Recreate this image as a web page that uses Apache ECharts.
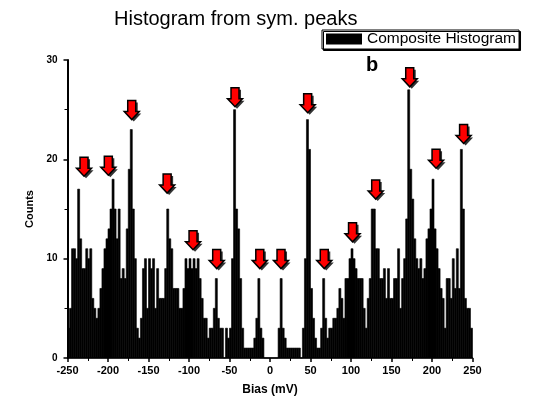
<!DOCTYPE html>
<html><head><meta charset="utf-8">
<script src="https://cdn.jsdelivr.net/npm/echarts/dist/echarts.min.js"></script>
<style>html,body{margin:0;padding:0;background:#fff}#c{width:540px;height:404px}</style>
</head><body><div id="c"></div>
<script>
// Histogram bins: lower edge of first bin and bin width (mV)
const BIN_START = -250;
const BIN_WIDTH = 2.5;
// Counts per bin (200 bins, -250 .. 250 mV)
const counts = [
  3,5,11,11,10,17,12,9,      // -250 .. -230
  9,11,10,11,6,5,4,5,        // -230 .. -210
  7,9,11,12,13,15,18,15,     // -210 .. -190
  12,15,8,9,8,13,19,23,      // -190 .. -170
  15,10,3,2,4,9,10,5,        // -170 .. -150
  10,9,10,5,9,6,6,6,         // -150 .. -130
  9,15,12,11,7,7,7,5,        // -130 .. -110
  5,7,10,9,10,9,10,9,        // -110 .. -90
  10,8,6,4,4,2,3,3,          // -90 .. -70
  5,8,4,3,3,0,3,2,           // -70 .. -50
  3,10,25,15,13,8,3,1,       // -50 .. -30
  1,1,1,1,2,4,8,3,           // -30 .. -10
  2,0,0,0,0,0,0,0,           // -10 .. 10
  3,8,3,2,1,1,1,1,           // 10 .. 30
  1,1,1,0,3,10,24,21,        // 30 .. 50
  7,4,2,1,1,3,8,4,           // 50 .. 70
  2,3,3,4,4,5,7,6,           // 70 .. 90
  4,8,8,10,11,10,9,8,        // 90 .. 110
  8,8,5,3,6,8,15,15,         // 110 .. 130
  11,11,8,8,9,6,9,6,         // 130 .. 150
  6,8,8,11,5,8,10,14,        // 150 .. 170
  27,19,16,12,10,9,10,8,     // 170 .. 190
  9,12,13,15,18,13,11,9,     // 190 .. 210
  7,6,3,8,8,6,10,7,          // 210 .. 230
  11,7,21,15,6,5,5,3         // 230 .. 250
];
// Red arrow markers: bias position (mV) and tip height (counts)
const arrowBias = [-229.6,-199.6,-170.7,-127,-95,-65.8,-43.2,-12.6,13.6,46.5,67,101.9,130.5,172.5,205,239];
const arrowTip  = [18.3,18.4,24,16.6,10.9,9,25.3,9,9,24.7,9,11.7,16,27.3,19.1,21.6];

const FONT = "'Liberation Sans', Arial, sans-serif";
const histData = counts.map((c, i) => [BIN_START + i * BIN_WIDTH, BIN_START + (i + 1) * BIN_WIDTH, c]);
const arrowData = arrowBias.map((b, i) => [b, arrowTip[i]]);

const chart = echarts.init(document.getElementById('c'), null, {renderer: 'canvas'});
const arrowShape = [[-4,-19],[4,-19],[4,-8],[7.5,-8],[0,0],[-7.5,-8],[-4,-8]];

chart.setOption({
  animation: false,
  backgroundColor: '#fff',
  textStyle: {fontFamily: FONT},
  grid: {left: 67.5, right: 67.5, top: 60, bottom: 46},
  legend: {
    data: [{name: 'Composite Histogram', icon: 'rect', itemStyle: {color: '#000'}}],
    left: 322, top: 30,
    itemWidth: 36, itemHeight: 11, itemGap: 4,
    padding: [1, 3, 2, 4],
    borderColor: '#000', borderWidth: 1,
    backgroundColor: '#fff',
    shadowColor: '#000', shadowOffsetX: 1.5, shadowOffsetY: 1.5, shadowBlur: 0,
    textStyle: {fontSize: 15.5, color: '#000', fontFamily: FONT, padding: [0,0,0,0]},
    selectedMode: false
  },
  graphic: [
    {type: 'text', left: 114, top: 9, style: {text: 'Histogram from sym. peaks', font: 'normal 20px ' + FONT, fill: '#000'}},
    {type: 'text', left: 366, top: 55, style: {text: 'b', font: 'bold 20px ' + FONT, fill: '#000'}}
  ],
  xAxis: {
    type: 'value', min: -250, max: 250, interval: 50,
    axisLine: {show: true, onZero: false, lineStyle: {color: '#000', width: 1.5}},
    axisTick: {show: true, length: 4, lineStyle: {color: '#000', width: 1.5}},
    minorTick: {show: true, splitNumber: 2, length: 3, lineStyle: {color: '#000', width: 1}},
    splitLine: {show: false},
    axisLabel: {color: '#000', fontWeight: 'bold', fontSize: 11, margin: 7, fontFamily: FONT},
    name: 'Bias (mV)', nameLocation: 'middle', nameGap: 26,
    nameTextStyle: {fontWeight: 'bold', fontSize: 12, color: '#000', fontFamily: FONT}
  },
  yAxis: {
    type: 'value', min: 0, max: 30, interval: 10,
    axisLine: {show: true, onZero: false, lineStyle: {color: '#000', width: 2}},
    axisTick: {show: true, length: 4, lineStyle: {color: '#000', width: 1.5}},
    minorTick: {show: true, splitNumber: 2, length: 3, lineStyle: {color: '#000', width: 1}},
    splitLine: {show: false},
    axisLabel: {color: '#000', fontWeight: 'bold', fontSize: 10, margin: 10, fontFamily: FONT},
    name: 'Counts', nameLocation: 'middle', nameGap: 31, nameRotate: 90,
    nameTextStyle: {fontWeight: 'bold', fontSize: 11, color: '#000', fontFamily: FONT}
  },
  series: [
    {
      name: 'Composite Histogram',
      type: 'custom',
      data: histData,
      encode: {x: [0, 1], y: 2},
      itemStyle: {color: '#000'},
      renderItem: function (params, api) {
        const p0 = api.coord([api.value(0), api.value(2)]);
        const p1 = api.coord([api.value(1), 0]);
        return {type: 'rect', shape: {x: p0[0], y: p0[1], width: p1[0] - p0[0], height: p1[1] - p0[1]}, style: {fill: '#000', stroke: '#000', lineWidth: 0.6}};
      },
      z: 2
    },
    {
      name: 'arrows',
      type: 'custom',
      data: arrowData,
      encode: {x: 0, y: 1},
      renderItem: function (params, api) {
        const p = api.coord([api.value(0), api.value(1)]);
        const pts = arrowShape.map(q => [p[0] + q[0], p[1] + q[1]]);
        const sh = arrowShape.map(q => [p[0] + q[0] + 2, p[1] + q[1] + 2]);
        return {type: 'group', children: [
          {type: 'polygon', shape: {points: sh}, style: {fill: '#333'}},
          {type: 'polygon', shape: {points: pts}, style: {fill: '#ff0000', stroke: '#000', lineWidth: 1.5}}
        ]};
      },
      z: 5
    }
  ]
});
</script></body></html>
